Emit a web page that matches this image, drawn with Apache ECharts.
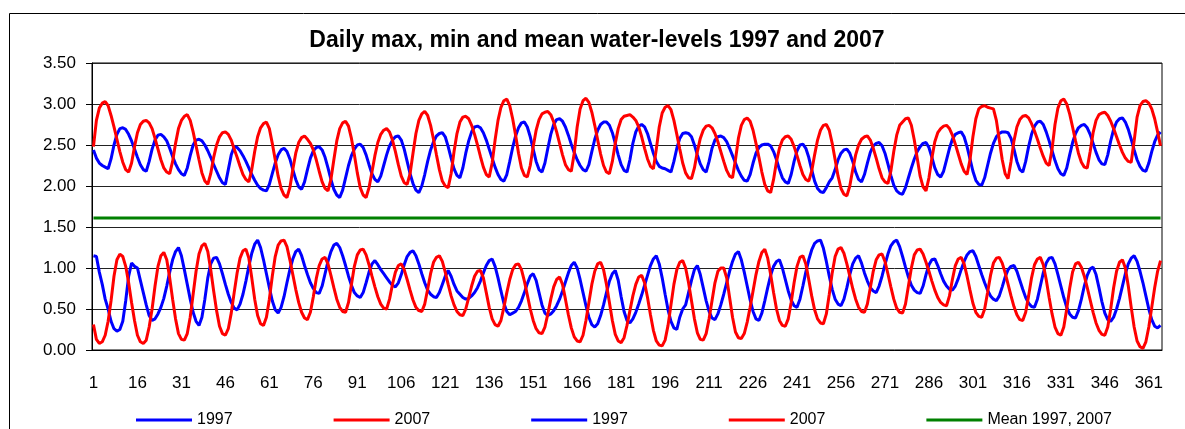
<!DOCTYPE html>
<html>
<head>
<meta charset="utf-8">
<script src="https://cdn.jsdelivr.net/npm/echarts@6/dist/echarts.min.js"></script>
<style>
html,body{margin:0;padding:0;background:#fff;}
#chart{width:1185px;height:429px;}
</style>
</head>
<body>
<div id="chart"></div>
<script>
// ---- data ----
const titleText = 'Daily max, min and mean water-levels 1997 and 2007';
const yTicks = [0, 0.5, 1, 1.5, 2, 2.5, 3, 3.5];
const seriesNames = ['1997 max', '2007 max', '1997 min', '2007 min', 'Mean 1997, 2007'];
const legendLabels = ['1997', '2007', '1997', '2007', 'Mean 1997, 2007'];
const meanLevel = 1.61;

const max1997 = [
2.44,2.34,2.28,2.25,2.23,2.21,
2.33,2.50,2.63,2.70,2.71,
2.69,2.63,2.55,2.45,2.35,2.26,2.20,2.18,
2.30,2.45,2.56,2.62,2.63,
2.60,2.55,2.46,2.36,2.27,2.20,2.15,2.13,
2.22,2.37,2.50,2.56,2.57,
2.55,2.50,2.43,2.35,2.26,2.18,2.10,2.04,2.02,
2.20,2.38,2.48,
2.47,2.43,2.37,2.30,2.22,2.14,2.07,2.01,1.97,1.95,1.94,
2.02,2.15,2.28,2.38,2.44,2.46,
2.42,2.33,2.20,2.08,1.99,1.96,
2.05,2.20,2.34,2.43,2.47,2.48,
2.44,2.35,2.22,2.08,1.96,1.89,1.86,
1.95,2.10,2.25,2.37,2.45,2.50,2.51,
2.47,2.38,2.26,2.15,2.08,2.05,
2.12,2.25,2.38,2.49,2.56,2.60,2.61,
2.56,2.45,2.30,2.15,2.03,1.95,1.92,
2.00,2.14,2.30,2.44,2.54,2.61,2.64,2.65,
2.60,2.48,2.34,2.21,2.13,2.10,
2.22,2.40,2.55,2.66,2.72,2.73,
2.71,2.65,2.56,2.45,2.34,2.23,2.14,2.08,2.06,
2.14,2.30,2.47,2.61,2.71,2.77,2.78,
2.72,2.60,2.45,2.30,2.20,2.17,
2.28,2.46,2.63,2.75,2.81,2.82,
2.79,2.72,2.62,2.51,2.41,2.32,2.25,2.20,2.18,
2.26,2.42,2.57,2.68,2.75,2.78,2.78,
2.74,2.65,2.52,2.38,2.26,2.19,2.17,
2.32,2.52,2.66,2.73,2.75,
2.72,2.64,2.52,2.40,2.30,2.24,2.22,2.21,2.19,2.17,
2.30,2.46,2.58,2.64,2.65,
2.64,2.60,2.50,2.38,2.27,2.20,2.17,
2.30,2.46,2.56,2.60,2.61,
2.59,2.54,2.46,2.37,2.28,2.19,2.12,2.07,2.06,
2.14,2.28,2.40,2.47,2.50,2.51,
2.51,2.49,2.42,2.32,2.20,2.10,2.05,2.03,
2.14,2.30,2.43,2.50,2.51,
2.46,2.35,2.20,2.06,1.97,1.93,1.92,
1.98,2.05,2.10,2.20,2.32,2.40,2.44,2.45,
2.40,2.30,2.17,2.08,2.05,
2.14,2.28,2.41,2.49,2.52,2.53,
2.49,2.40,2.27,2.13,2.01,1.94,1.91,1.90,
1.98,2.10,2.22,2.33,2.42,2.48,2.52,2.53,
2.47,2.35,2.22,2.14,2.11,
2.18,2.32,2.46,2.57,2.63,2.65,2.66,
2.60,2.48,2.33,2.18,2.07,2.02,2.01,
2.10,2.25,2.40,2.52,2.60,2.64,2.66,
2.66,2.65,2.58,2.45,2.30,2.20,2.17,
2.30,2.48,2.63,2.73,2.78,2.79,
2.75,2.66,2.55,2.43,2.31,2.21,2.15,2.13,
2.22,2.38,2.53,2.64,2.71,2.74,2.75,
2.71,2.63,2.52,2.41,2.32,2.27,2.26,
2.38,2.55,2.69,2.78,2.82,2.83,
2.78,2.69,2.57,2.44,2.32,2.24,2.19,2.18,
2.28,2.42,2.54,2.62,2.66
];

const max2007 = [
2.48,2.80,2.95,3.01,3.03,
2.98,2.86,2.72,2.57,2.42,2.29,2.20,2.17,
2.28,2.48,2.65,2.75,2.79,2.80,
2.77,2.70,2.58,2.45,2.32,2.22,2.17,2.15,
2.30,2.52,2.70,2.80,2.85,2.87,
2.80,2.66,2.49,2.32,2.16,2.06,2.02,
2.15,2.35,2.50,2.60,2.65,2.66,
2.63,2.56,2.45,2.35,2.24,2.14,2.08,2.05,
2.20,2.42,2.60,2.71,2.76,2.78,
2.70,2.52,2.32,2.12,1.97,1.89,1.86,
1.98,2.20,2.40,2.53,2.59,2.61,
2.57,2.52,2.44,2.32,2.18,2.05,1.97,1.94,
2.08,2.32,2.55,2.70,2.77,2.79,
2.73,2.58,2.38,2.16,1.98,1.89,1.86,
1.98,2.17,2.37,2.53,2.63,2.68,2.70,
2.66,2.56,2.42,2.26,2.12,2.04,2.02,
2.15,2.40,2.64,2.80,2.88,2.91,
2.86,2.74,2.57,2.38,2.20,2.06,2.00,1.98,
2.15,2.42,2.64,2.78,2.84,2.85,
2.82,2.74,2.63,2.50,2.36,2.23,2.14,2.11,
2.28,2.56,2.80,2.96,3.04,3.06,
2.98,2.82,2.62,2.40,2.22,2.13,2.11,
2.25,2.48,2.68,2.81,2.88,2.90,2.91,
2.87,2.78,2.66,2.52,2.38,2.26,2.20,2.18,
2.40,2.72,2.94,3.04,3.07,
3.02,2.90,2.74,2.56,2.39,2.25,2.17,2.15,
2.30,2.52,2.70,2.81,2.85,2.86,2.87,
2.84,2.80,2.72,2.60,2.46,2.33,2.24,2.21,
2.45,2.72,2.89,2.96,2.98,
2.93,2.80,2.63,2.45,2.28,2.16,2.10,2.09,
2.22,2.42,2.58,2.68,2.73,2.74,
2.71,2.64,2.54,2.42,2.30,2.19,2.12,2.10,
2.32,2.58,2.74,2.81,2.83,
2.79,2.68,2.52,2.35,2.17,2.02,1.94,1.92,
2.08,2.30,2.46,2.56,2.60,2.61,
2.57,2.48,2.37,2.25,2.14,2.08,2.06,
2.18,2.38,2.56,2.68,2.74,2.75,
2.68,2.52,2.32,2.12,1.97,1.90,1.88,
2.00,2.20,2.38,2.50,2.57,2.60,2.61,
2.56,2.46,2.34,2.21,2.10,2.05,2.03,
2.18,2.42,2.62,2.74,2.78,2.82,2.83,
2.74,2.56,2.34,2.12,1.99,1.94,
2.10,2.34,2.54,2.65,2.70,2.73,2.74,
2.70,2.62,2.51,2.39,2.27,2.18,2.14,
2.32,2.60,2.82,2.94,2.97,2.98,
2.96,2.95,2.94,2.80,2.56,2.32,2.15,2.09,
2.30,2.55,2.72,2.81,2.85,2.86,
2.83,2.76,2.67,2.57,2.46,2.36,2.28,2.25,
2.45,2.75,2.95,3.04,3.06,
3.00,2.88,2.72,2.55,2.40,2.29,2.23,2.22,
2.42,2.65,2.80,2.87,2.89,2.90,
2.86,2.79,2.70,2.60,2.50,2.41,2.34,2.30,2.29,
2.55,2.84,2.98,3.03,3.04,
3.01,2.94,2.82,2.66,2.49
];

const min1997 = [
1.15,1.14,0.95,0.80,0.62,0.50,0.35,0.26,0.23,
0.25,0.35,0.60,0.90,1.06,
1.02,1.00,0.85,0.70,0.55,0.42,0.36,
0.38,0.44,0.52,0.63,0.78,0.95,1.10,1.20,1.25,
1.15,0.98,0.80,0.62,0.46,0.35,0.30,
0.40,0.62,0.88,1.05,1.12,1.13,
1.05,0.93,0.80,0.68,0.58,0.51,0.49,
0.56,0.68,0.84,1.02,1.18,1.29,1.34,
1.25,1.10,0.93,0.76,0.60,0.49,0.45,
0.52,0.65,0.82,0.98,1.11,1.20,1.23,
1.15,1.03,0.92,0.82,0.75,0.70,0.69,
0.78,0.93,1.08,1.20,1.28,1.30,
1.25,1.15,1.03,0.90,0.79,0.70,0.66,0.64,
0.70,0.82,0.95,1.05,1.09,
1.04,0.98,0.93,0.88,0.83,0.79,0.77,
0.82,0.92,1.04,1.14,1.19,1.21,
1.15,1.05,0.93,0.82,0.73,0.68,0.65,0.64,
0.70,0.80,0.90,0.97,
0.90,0.80,0.72,0.68,0.64,0.62,
0.63,0.66,0.70,0.76,0.84,0.94,1.03,1.09,1.11,
1.02,0.88,0.72,0.57,0.47,0.43,
0.45,0.47,0.52,0.60,0.70,0.81,0.90,0.93,
0.85,0.70,0.55,0.45,0.42,
0.44,0.48,0.54,0.62,0.72,0.83,0.94,1.03,1.07,
1.00,0.86,0.70,0.54,0.40,0.31,0.28,
0.32,0.42,0.55,0.70,0.84,0.93,0.97,
0.85,0.65,0.47,0.36,0.33,
0.38,0.46,0.56,0.67,0.79,0.91,1.03,1.11,1.15,
1.05,0.88,0.68,0.49,0.35,0.27,0.25,
0.40,0.50,0.55,0.70,0.85,0.98,1.03,
0.92,0.76,0.60,0.47,0.39,0.37,
0.44,0.55,0.68,0.82,0.96,1.08,1.17,1.20,
1.10,0.95,0.78,0.61,0.47,0.38,0.36,
0.45,0.60,0.76,0.91,1.02,1.08,1.10,
1.00,0.86,0.72,0.61,0.54,0.52,
0.62,0.78,0.95,1.10,1.22,1.30,1.33,1.34,
1.24,1.08,0.90,0.74,0.62,0.56,0.54,
0.62,0.76,0.92,1.05,1.12,1.15,
1.06,0.94,0.84,0.76,0.72,0.70,
0.78,0.90,1.04,1.17,1.27,1.32,1.34,
1.26,1.14,1.01,0.89,0.79,0.73,0.70,0.69,
0.78,0.92,1.04,1.10,1.11,
1.03,0.93,0.84,0.78,0.74,0.73,
0.78,0.87,0.98,1.08,1.16,1.20,1.21,
1.14,1.03,0.92,0.82,0.73,0.66,0.62,0.60,
0.66,0.77,0.89,0.98,1.02,1.03,
0.96,0.85,0.74,0.64,0.57,0.53,0.52,
0.62,0.78,0.94,1.06,1.12,1.13,
1.05,0.92,0.78,0.64,0.52,0.44,0.40,0.39,
0.48,0.62,0.78,0.91,0.99,1.01,
0.92,0.76,0.59,0.45,0.37,0.35,
0.40,0.50,0.63,0.78,0.93,1.05,1.12,1.15,
1.08,0.96,0.82,0.66,0.50,0.37,0.29,0.27,
0.30
];

const min2007 = [
0.31,0.13,0.08,
0.10,0.18,0.35,0.60,0.90,1.10,1.17,
1.14,1.02,0.82,0.58,0.36,0.18,0.10,0.08,
0.12,0.28,0.50,0.78,1.02,1.15,1.19,
1.10,0.88,0.62,0.38,0.20,0.13,0.12,
0.20,0.40,0.68,0.96,1.17,1.27,1.30,
1.20,0.98,0.72,0.48,0.29,0.20,0.18,
0.26,0.45,0.70,0.94,1.12,1.21,1.23,
1.12,0.88,0.62,0.42,0.32,0.30,
0.40,0.62,0.90,1.14,1.28,1.33,1.34,
1.26,1.10,0.92,0.74,0.58,0.46,0.39,0.37,
0.46,0.65,0.87,1.03,1.11,1.13,
1.05,0.91,0.76,0.62,0.52,0.47,0.46,
0.58,0.80,1.02,1.16,1.22,1.23,
1.16,1.04,0.90,0.77,0.65,0.56,0.51,0.50,
0.62,0.80,0.95,1.03,1.05,
0.98,0.86,0.73,0.61,0.52,0.48,0.47,
0.56,0.74,0.93,1.07,1.13,1.15,
1.08,0.95,0.80,0.66,0.55,0.47,0.43,0.42,
0.50,0.64,0.78,0.90,0.96,0.97,
0.88,0.70,0.52,0.38,0.31,0.29,
0.36,0.52,0.70,0.86,0.98,1.04,1.05,
0.98,0.84,0.67,0.50,0.36,0.26,0.21,0.20,
0.28,0.44,0.62,0.77,0.86,0.89,
0.80,0.62,0.43,0.27,0.16,0.11,0.10,
0.18,0.36,0.58,0.80,0.96,1.05,1.07,
0.98,0.80,0.58,0.36,0.19,0.11,0.09,
0.15,0.30,0.48,0.66,0.80,0.89,0.91,
0.82,0.64,0.43,0.24,0.11,0.06,0.05,
0.12,0.30,0.55,0.80,0.98,1.07,1.09,
1.00,0.82,0.60,0.38,0.21,0.13,0.12,
0.20,0.38,0.60,0.82,0.96,1.00,1.00,
0.88,0.64,0.40,0.22,0.15,0.14,
0.20,0.34,0.52,0.72,0.92,1.08,1.19,1.23,
1.12,0.92,0.70,0.50,0.36,0.30,0.29,
0.38,0.58,0.82,1.02,1.13,1.15,
1.05,0.86,0.66,0.49,0.38,0.33,0.32,
0.44,0.68,0.94,1.14,1.23,1.25,
1.18,1.05,0.90,0.75,0.62,0.52,0.47,0.46,
0.56,0.76,0.96,1.10,1.16,1.17,
1.08,0.93,0.77,0.62,0.51,0.46,0.45,
0.56,0.78,1.00,1.16,1.22,1.23,
1.17,1.07,0.96,0.84,0.73,0.64,0.58,0.55,0.54,
0.66,0.86,1.03,1.11,1.13,
1.05,0.90,0.73,0.57,0.46,0.41,0.40,
0.50,0.70,0.91,1.06,1.12,1.13,
1.06,0.94,0.80,0.66,0.53,0.43,0.37,0.36,
0.46,0.66,0.88,1.04,1.11,1.13,
1.04,0.86,0.64,0.44,0.28,0.20,0.18,
0.28,0.50,0.75,0.95,1.05,1.07,
1.01,0.90,0.76,0.61,0.46,0.33,0.24,0.19,0.18,
0.28,0.50,0.76,0.96,1.07,1.10,
1.00,0.78,0.52,0.28,0.11,0.04,0.02,
0.10,0.28,0.52,0.76,0.96,1.09
];

const days = max1997.map((_, i) => String(i + 1));
const meanValues = days.map(() => meanLevel);

// ---- chart ----
const chart = echarts.init(document.getElementById('chart'), null, {renderer: 'canvas'});
const FONT = 'Liberation Sans, Arial, sans-serif';
const colors = ['#0000FF', '#FF0000', '#0000FF', '#FF0000', '#008000'];
const seriesData = [max1997, max2007, min1997, min2007, meanValues];

chart.setOption({
  animation: false,
  backgroundColor: '#ffffff',
  title: {
    text: titleText,
    left: 592, top: 24, textAlign: 'center',
    textStyle: {fontFamily: FONT, fontWeight: 'bold', fontSize: 23, color: '#000'}
  },
  graphic: [{
    type: 'rect', shape: {x: 9.5, y: 13.5, width: 1200, height: 500},
    style: {fill: 'none', stroke: '#000', lineWidth: 1}, silent: true, z: -1
  }],
  legend: {
    left: 136, top: 412, padding: 0, itemGap: 101, itemWidth: 56, itemHeight: 3,
    icon: 'rect',
    data: seriesNames,
    formatter: (n) => legendLabels[seriesNames.indexOf(n)],
    textStyle: {fontFamily: FONT, fontSize: 16, color: '#000'}
  },
  grid: {left: 92, right: 23, top: 63, bottom: 79, show: true, borderColor: '#000', borderWidth: 1, backgroundColor: '#fff'},
  xAxis: {
    type: 'category', data: days, boundaryGap: true,
    axisLine: {lineStyle: {color: '#000', width: 1}},
    axisTick: {interval: 0, length: 5, lineStyle: {color: '#000'}},
    axisLabel: {interval: 14, fontFamily: FONT, fontSize: 17, color: '#000', margin: 25}
  },
  yAxis: {
    type: 'value', min: yTicks[0], max: yTicks[yTicks.length - 1], interval: 0.5,
    axisLine: {show: true, lineStyle: {color: '#000', width: 1}},
    axisTick: {show: true, length: 6, lineStyle: {color: '#000'}},
    axisLabel: {fontFamily: FONT, fontSize: 17, color: '#000', margin: 16, formatter: (v) => v.toFixed(2)},
    splitLine: {lineStyle: {color: '#222', width: 1}}
  },
  series: seriesData.map((d, i) => ({
    name: seriesNames[i], type: 'line', data: d,
    showSymbol: false, symbol: 'none',
    lineStyle: {color: colors[i], width: 3},
    itemStyle: {color: colors[i]},
    z: 2 + i
  }))
});
</script>
</body>
</html>
